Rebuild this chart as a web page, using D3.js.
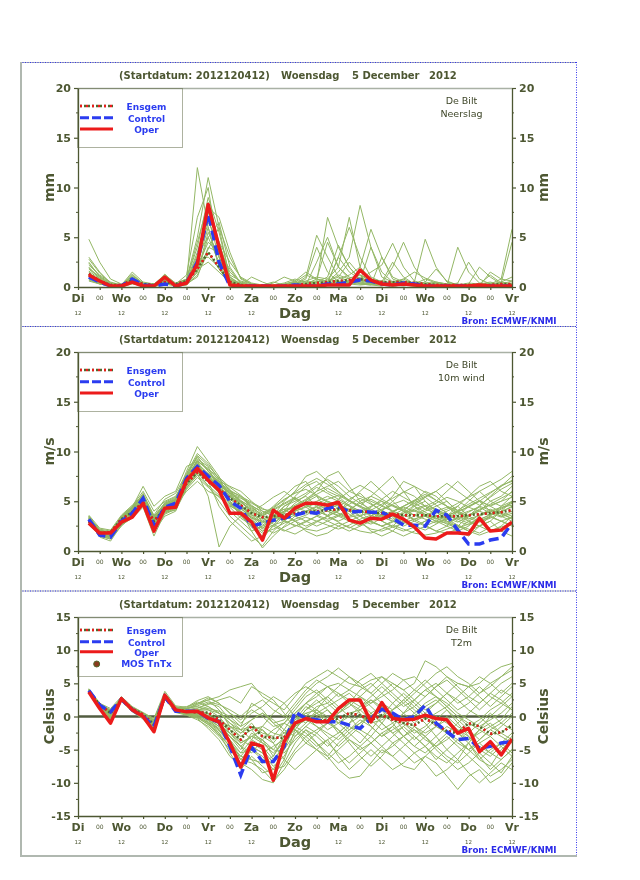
<!DOCTYPE html>
<html><head><meta charset="utf-8">
<script src="https://cdn.jsdelivr.net/npm/d3@7"></script>
<style>body{margin:0;background:#fff} svg{will-change:transform} text{font-family:"DejaVu Sans",sans-serif;white-space:pre}</style>
</head><body>
<svg id="c" width="640" height="880"></svg>
<script>
// ---------- DATA ----------
const hours = [6,12,18,24,30,36,42,48,54,60, 66,72,78,84,90,96,102,108,114,120, 126,132,138,144,150,156,162,168,174,180, 186,192,198,204,210,216,222,228,234,240];
const dayHours = [0,24,48,72,96,120,144,168,192,216,240];
const dayNames = ["Di","Wo","Do","Vr","Za","Zo","Ma","Di","Wo","Do","Vr"];
const noonLabels = ["12","12","12","12","12","","12","12","12","12","12"];
const nightHours = [12,36,60,84,108,132,156,180,204,228];
const legendLabels = ["Ensgem","Control","Oper"];
const tempLegendLabels = ["Ensgem","Control","Oper","MOS TnTx"];
const titleParts = ["(Startdatum: 2012120412)","Woensdag","5 December","2012"];

const precipTicks = [0,5,10,15,20];
const precipMinor = [2.5,7.5,12.5,17.5];
const tempTicks = [-15,-10,-5,0,5,10,15];
const tempMinor = [-12.5,-7.5,-2.5,2.5,7.5,12.5];

const precipOper = [1.2,0.6,0.1,0.1,0.5,0.1,0.1,1.0,0.1,0.4, 2.3,8.3,4.0,0.2,0.1,0.1,0.1,0.1,0.1,0.1, 0.1,0.1,0.2,0.2,0.2,1.7,0.7,0.3,0.2,0.3, 0.2,0.1,0.1,0.1,0.1,0.1,0.2,0.1,0.1,0.1];
const precipControl = [1.0,0.5,0.1,0.1,0.8,0.2,0.1,0.3,0.1,0.4, 2.5,7.4,2.5,0.1,0.1,0.1,0.1,0.1,0.1,0.2, 0.1,0.1,0.3,0.3,0.5,0.7,0.6,0.3,0.2,0.4, 0.3,0.1,0.1,0.1,0.1,0.1,0.1,0.1,0.1,0.1];
const precipEnsgem = [1.3,0.6,0.2,0.2,0.7,0.3,0.2,0.5,0.3,0.6, 1.8,3.5,2.0,0.5,0.2,0.1,0.1,0.1,0.1,0.2, 0.3,0.4,0.5,0.6,0.7,0.8,0.6,0.5,0.5,0.5, 0.4,0.3,0.2,0.2,0.2,0.2,0.2,0.2,0.3,0.3];
const precipMembers = [
 [4.8,2.5,0.8,0.3,1.0,0.3,0.2,0.8,0.2,0.5, 12.0,6.0,2.0,1.0,0.2,0.1,0.0,0.1,0.3,0.5, 0.2,0.1,0.5,1.2,0.8,0.3,0.2,0.1,0.5,0.8, 0.3,0.2,0.1,0.1,0.3,0.2,0.1,0.2,0.5,0.3],
 [3.0,1.5,0.4,0.2,1.5,0.5,0.3,1.2,0.4,0.8, 5.0,11.0,6.0,0.8,0.1,0.0,0.1,0.2,0.1,0.3, 1.0,5.2,3.0,1.0,0.6,0.4,0.3,0.2,0.3,0.2, 0.1,0.1,0.2,0.3,0.2,0.1,0.1,0.3,0.2,0.1],
 [2.0,0.8,0.2,0.1,0.9,0.2,0.2,1.3,0.3,1.2, 7.0,10.0,3.0,0.5,0.2,0.1,0.2,0.5,0.2,0.1, 0.3,0.8,4.5,2.0,7.0,2.0,0.8,0.4,0.2,0.1, 0.3,0.8,0.4,0.2,0.1,0.1,0.2,0.4,0.2,0.1],
 [1.5,0.5,0.1,0.1,0.6,0.1,0.1,0.5,0.2,0.6, 2.0,8.0,7.0,3.5,0.8,0.3,0.1,0.1,0.2,0.4, 0.2,0.3,0.5,1.5,3.0,8.2,4.0,1.0,0.5,0.3, 0.2,0.3,0.5,0.3,0.2,0.4,0.3,0.2,0.1,0.2],
 [2.5,1.0,0.3,0.1,1.2,0.4,0.3,0.8,0.2,0.3, 1.5,5.0,6.5,2.0,0.4,0.1,0.0,0.0,0.1,0.2, 0.1,0.2,0.3,0.8,1.2,2.0,5.8,3.0,1.0,0.5, 0.3,0.2,0.1,0.1,0.2,0.1,0.2,0.3,0.8,5.8],
 [1.0,0.4,0.1,0.0,0.5,0.2,0.1,0.6,0.1,0.5, 3.0,8.0,4.0,1.5,0.5,0.2,0.1,0.0,0.1,0.3, 0.8,4.0,1.5,0.5,0.3,1.0,0.5,0.3,2.0,4.5, 2.0,0.5,0.3,0.2,0.1,0.1,0.1,0.2,0.4,4.5],
 [0.8,0.3,0.1,0.1,0.4,0.1,0.0,0.4,0.3,0.8, 4.0,9.0,5.5,1.0,0.2,0.1,0.0,0.1,0.2,0.2, 0.3,0.5,7.0,4.0,2.0,0.8,0.4,0.2,0.1,0.2, 0.5,4.8,2.0,0.5,0.2,0.1,0.3,0.2,0.1,0.2],
 [1.8,0.9,0.2,0.1,0.7,0.2,0.1,0.9,0.2,0.4, 2.5,6.5,4.5,2.5,1.0,0.4,0.2,0.1,0.3,0.6, 1.5,0.8,0.5,3.0,6.0,3.0,1.0,0.5,2.5,1.0, 0.3,0.2,0.1,0.1,4.0,1.5,0.4,0.2,0.1,0.1],
 [1.2,0.6,0.2,0.1,0.8,0.3,0.1,0.7,0.1,0.3, 1.0,4.0,3.5,1.8,0.3,0.1,0.0,0.1,0.1,0.1, 0.2,0.3,0.4,0.6,0.5,0.8,1.5,2.2,4.4,2.0, 0.6,0.3,0.2,0.1,0.1,0.3,2.0,1.0,0.3,0.2],
 [0.9,0.4,0.1,0.0,0.3,0.1,0.1,0.3,0.1,0.2, 1.5,5.5,3.0,0.6,0.2,1.0,0.5,0.1,0.2,0.4, 0.6,1.0,0.8,0.5,0.4,0.3,0.2,3.0,0.8,0.4, 0.2,0.1,0.1,0.2,0.4,2.5,0.8,0.3,0.5,1.0],
 [2.2,1.2,0.5,0.2,1.0,0.3,0.2,1.1,0.3,0.6, 3.5,7.5,4.5,0.8,0.3,0.2,0.1,0.2,0.4,0.8, 0.5,0.4,0.3,0.5,0.9,1.2,0.8,0.6,0.4,0.8, 1.5,0.9,0.5,0.3,0.2,0.2,0.1,1.5,0.8,0.6],
 [1.4,0.7,0.2,0.1,0.6,0.2,0.1,0.6,0.2,0.5, 2.0,4.5,3.5,1.2,0.6,0.3,0.1,0.0,0.1,0.2, 0.4,0.3,0.2,0.4,0.3,0.2,0.3,0.5,0.3,0.2, 0.3,0.2,0.1,0.2,0.1,0.1,0.2,0.2,0.3,0.2],
 [0.6,0.3,0.1,0.1,0.4,0.2,0.1,0.5,0.2,0.7, 2.8,3.0,2.0,0.5,0.1,0.0,0.1,0.4,1.0,0.6, 0.2,2.5,5.0,2.0,0.8,0.5,0.3,0.2,0.4,0.5, 0.2,0.1,0.2,0.1,0.1,0.1,0.3,0.5,0.2,0.1],
 [1.6,0.8,0.3,0.2,0.9,0.3,0.2,0.8,0.3,0.5, 1.8,2.5,1.5,0.4,0.2,0.1,0.0,0.1,0.1,0.3, 0.5,0.6,0.4,3.0,1.5,0.8,0.5,0.4,0.3,0.2, 0.4,0.3,0.2,0.1,0.1,0.2,0.1,0.1,0.2,0.4],
 [1.1,0.5,0.1,0.1,0.5,0.1,0.1,0.6,0.1,0.3, 2.2,6.0,2.0,0.3,0.1,0.1,0.0,0.0,0.1,0.2, 0.3,0.2,0.3,0.4,0.5,0.6,4.0,1.5,0.5,0.3, 0.2,0.5,1.8,0.6,0.2,0.1,0.3,1.2,0.4,0.2],
 [2.8,1.4,0.4,0.2,1.1,0.4,0.2,0.9,0.2,0.6, 3.2,5.0,2.5,0.7,0.4,0.2,0.1,0.1,0.2,0.2, 0.1,0.2,0.8,2.0,1.0,0.6,0.4,0.3,0.5,0.3, 0.2,0.2,0.3,0.2,0.1,0.1,0.2,0.1,0.2,0.3],
 [0.7,0.3,0.1,0.0,0.4,0.1,0.1,0.4,0.1,0.2, 1.2,3.5,1.8,0.3,0.1,0.0,0.0,0.0,0.1,0.1, 0.2,0.3,0.2,0.3,0.6,0.4,0.3,0.2,0.1,0.2, 0.1,0.2,0.1,0.1,0.2,0.1,0.1,0.1,0.2,0.2],
 [1.9,1.0,0.3,0.1,0.8,0.2,0.1,0.7,0.2,0.4, 2.4,7.0,3.0,0.6,0.2,0.1,0.1,0.1,0.2,0.4, 0.3,0.5,1.0,4.2,2.0,0.7,0.4,0.3,0.2,0.4, 0.3,0.2,0.4,0.3,0.2,0.2,0.3,0.2,0.2,0.3],
 [1.3,0.6,0.2,0.1,0.6,0.2,0.1,0.5,0.2,0.6, 1.6,3.8,6.0,3.0,0.9,0.3,0.1,0.0,0.1,0.1, 0.2,0.4,0.3,0.2,0.5,0.8,0.5,0.3,0.4,0.6, 0.4,0.2,0.1,0.1,0.1,0.2,0.2,0.3,0.1,0.1],
 [2.4,1.1,0.4,0.2,1.3,0.3,0.2,1.0,0.3,0.7, 4.5,8.5,4.5,1.0,0.3,0.1,0.0,0.1,0.2,0.5, 1.2,0.8,0.6,1.0,2.5,1.2,0.6,0.4,0.3,0.6, 0.4,0.3,0.2,0.2,0.1,0.1,0.2,0.2,0.3,0.6]
];

const windOper = [2.8,1.8,1.8,2.9,3.4,4.8,2.0,4.3,4.4,7.1, 8.3,7.1,6.1,3.8,3.8,2.9,1.1,4.1,3.3,4.3, 4.8,4.8,4.6,4.9,3.1,2.8,3.3,3.2,3.7,3.2, 2.4,1.3,1.2,1.8,1.8,1.7,3.3,2.0,2.1,2.9];
const windControl = [3.2,1.6,1.4,3.0,3.8,5.3,2.5,4.4,4.8,7.3, 8.5,7.5,6.6,5.0,4.3,2.5,2.8,3.1,3.3,3.6, 3.9,3.8,4.3,4.5,3.9,4.0,3.9,3.9,3.3,2.6, 2.6,2.5,4.1,3.6,2.1,0.7,0.7,1.1,1.3,2.8];
const windEnsgem = [3.0,1.8,1.9,3.2,3.9,4.9,3.0,4.3,4.6,6.8, 7.9,7.0,6.2,5.3,4.6,3.8,3.4,3.5,3.6,3.8, 3.9,4.0,4.1,4.2,4.1,4.0,3.9,3.8,3.7,3.6, 3.6,3.6,3.5,3.5,3.5,3.6,3.7,3.8,3.9,4.1];
const windMembers = [
 [3.5,2.0,1.5,3.5,4.5,6.0,4.0,5.0,5.5,7.5, 9.5,8.0,7.0,5.5,4.5,3.0,2.0,3.0,4.0,5.5, 6.5,7.0,6.0,5.5,4.5,3.5,3.0,4.0,5.0,6.0, 5.5,4.5,3.5,3.0,2.5,3.5,4.5,5.5,6.5,7.5],
 [3.0,1.5,1.2,2.5,3.5,4.5,2.0,3.5,4.0,6.5, 8.0,6.5,5.0,3.5,2.5,1.5,0.5,2.0,3.0,4.0, 5.0,6.0,7.5,8.0,6.5,5.0,4.0,3.0,2.5,3.5, 4.5,5.0,4.0,3.0,2.0,1.5,2.5,3.5,3.0,2.5],
 [2.8,1.8,2.0,3.2,4.0,5.5,3.0,4.0,5.0,7.0, 8.5,7.5,6.5,6.0,5.5,4.5,3.5,4.5,5.5,6.5, 7.0,5.5,4.0,3.5,3.0,2.5,3.5,4.5,5.5,7.0, 6.5,5.0,4.0,3.5,4.0,5.0,6.0,5.0,4.5,5.5],
 [3.3,1.9,1.6,3.0,4.2,5.8,3.5,4.8,5.2,8.0, 10.5,9.0,7.5,5.0,3.5,2.5,1.5,2.5,3.5,3.0, 2.5,3.0,3.5,4.0,5.0,6.0,7.0,6.0,5.0,4.0, 3.0,2.5,2.0,2.5,3.5,4.5,5.0,4.0,3.5,4.0],
 [3.1,1.7,1.3,2.8,3.6,4.8,2.3,4.2,4.6,6.0, 7.0,6.0,5.5,4.5,4.0,2.0,0.3,1.5,2.5,3.5, 4.0,4.5,5.0,4.5,4.0,3.0,2.0,1.5,2.0,3.0, 3.5,4.0,4.5,5.0,4.0,3.0,2.5,3.0,4.0,5.0],
 [2.9,1.6,1.7,3.3,4.4,6.5,4.5,5.5,6.0,8.5, 9.0,7.0,4.5,3.0,2.0,1.0,1.5,3.5,5.0,6.0, 7.5,8.0,7.0,6.0,5.0,4.5,5.5,6.5,7.5,6.0, 4.5,3.5,3.0,3.5,4.5,5.5,6.5,7.0,6.0,5.5],
 [3.4,2.1,1.8,3.4,4.1,5.1,2.8,4.0,4.4,6.8, 8.2,7.3,6.8,5.8,5.0,4.0,3.0,2.5,2.0,2.5, 3.0,3.5,3.0,2.5,2.0,2.5,3.0,2.5,2.0,1.5, 2.0,2.5,3.0,2.5,2.0,2.5,3.5,4.0,3.5,3.0],
 [3.0,1.4,1.0,2.6,3.3,4.4,1.5,3.8,4.3,6.3, 7.8,7.8,7.0,6.5,6.0,5.0,4.0,3.5,3.0,4.0, 4.5,5.0,5.5,5.0,4.5,4.0,4.5,5.0,4.0,3.0, 2.5,3.0,3.5,4.0,4.5,3.5,3.0,3.5,4.5,5.0],
 [3.6,2.3,2.1,3.6,4.6,5.6,3.2,4.6,5.2,7.2, 9.2,8.5,6.0,4.0,3.0,2.0,2.5,3.0,4.5,5.0, 5.5,4.5,3.5,3.0,3.5,4.0,3.0,2.5,3.0,4.0, 5.0,6.0,5.5,4.5,3.5,3.0,2.5,2.0,2.5,3.5],
 [2.7,1.5,1.4,2.9,3.7,5.0,2.6,4.3,4.7,7.1, 8.7,7.2,6.3,5.2,4.8,3.2,2.2,3.8,4.2,3.5, 3.0,2.5,3.0,3.5,4.0,5.0,5.5,5.0,4.5,4.0, 4.0,4.5,5.0,6.0,7.0,6.0,5.0,4.5,5.0,6.0],
 [3.2,1.9,1.9,3.1,3.9,5.2,3.1,4.5,4.9,7.4, 8.9,7.6,6.4,5.6,5.3,4.8,4.2,4.0,3.8,3.0, 2.0,1.5,1.8,2.5,3.0,3.5,4.0,3.5,3.0,2.5, 3.0,3.5,3.0,2.8,2.5,2.0,2.5,3.0,2.0,1.5],
 [3.3,1.8,1.5,3.2,4.3,5.6,3.6,5.2,5.8,7.8, 9.8,8.8,7.2,6.2,4.6,3.6,2.6,3.3,4.0,4.6, 5.2,6.0,6.5,7.0,6.0,5.5,5.0,4.5,4.0,4.5, 5.0,5.5,6.0,5.0,4.0,3.5,4.0,5.0,5.5,6.5],
 [2.9,1.7,1.6,2.7,3.4,4.6,2.4,3.9,4.1,6.2, 7.4,6.4,5.4,4.4,3.3,2.6,1.8,2.2,2.8,3.2, 3.6,4.2,4.8,3.8,3.2,2.8,2.2,2.0,2.4,2.8, 3.2,2.6,2.0,1.8,2.2,3.0,3.6,4.2,3.8,3.2],
 [3.1,2.0,1.8,3.0,4.0,5.4,3.3,4.4,4.8,7.0, 8.4,7.4,6.6,5.8,5.4,4.4,3.6,4.2,4.8,5.4, 4.6,4.0,3.6,4.4,5.2,5.8,4.8,4.0,3.4,3.8, 4.2,4.6,4.2,3.6,3.2,3.6,4.2,4.6,5.0,5.4],
 [3.0,1.6,1.4,2.8,3.8,5.0,2.7,4.2,4.5,6.7, 8.0,7.0,5.8,4.8,4.0,3.4,3.0,3.6,4.2,4.4, 4.8,4.6,4.2,3.8,3.4,3.6,3.8,4.2,4.6,4.2, 3.6,3.2,2.8,3.2,3.6,4.0,4.4,3.8,3.4,3.8],
 [3.4,2.2,2.0,3.5,4.4,5.7,3.4,4.7,5.1,7.5, 9.0,8.2,7.4,6.4,5.6,4.6,3.8,4.4,5.2,5.8, 6.2,5.6,5.0,4.6,4.2,3.8,4.4,5.2,6.0,5.4, 4.8,4.2,3.8,4.2,4.8,5.4,6.0,6.6,7.2,8.0],
 [2.8,1.5,1.2,2.6,3.5,4.7,2.2,3.7,4.2,6.4, 7.6,6.6,5.6,4.6,3.8,2.8,2.0,2.6,3.0,2.6, 2.2,2.0,2.4,2.8,2.4,2.0,1.8,2.2,2.6,2.2, 1.8,1.6,1.8,2.2,2.6,2.0,1.6,2.0,2.4,2.8],
 [3.2,1.8,1.6,3.1,4.0,5.2,2.9,4.4,4.8,7.0, 8.6,7.6,6.2,5.0,4.2,3.6,3.2,3.6,4.0,4.4, 4.0,3.6,3.2,3.6,4.2,4.8,5.2,4.6,4.0,3.6, 3.2,3.6,4.0,4.4,3.8,3.2,3.6,4.0,4.4,4.6],
 [3.5,2.0,1.7,3.3,4.3,5.5,3.0,4.9,5.4,7.6, 9.4,8.0,6.8,5.0,3.6,2.4,1.2,2.6,3.8,4.8, 5.6,6.4,5.8,5.2,4.6,4.0,3.6,3.2,3.6,4.2, 4.8,5.4,4.6,3.8,3.0,2.6,3.0,3.4,3.0,2.6],
 [3.0,1.7,1.5,2.9,3.8,5.1,2.8,4.1,4.6,6.9, 8.3,7.1,6.1,5.4,4.9,4.2,3.5,3.2,3.6,4.0, 4.4,4.8,5.2,5.6,5.0,4.4,3.8,3.4,3.0,2.8, 3.2,3.6,4.0,3.6,3.2,2.8,3.2,3.6,4.2,4.8],
 [3.3,1.9,1.7,3.2,4.1,5.3,3.2,4.5,5.0,7.2, 8.8,7.8,7.0,6.0,5.0,3.8,2.8,3.5,4.5,5.2, 5.8,6.6,7.2,6.5,5.5,4.8,4.2,3.6,3.2,3.8, 4.6,5.4,6.0,6.8,6.0,5.2,4.6,5.4,6.2,6.8],
 [2.9,1.6,1.5,2.8,3.6,4.9,2.5,4.0,4.4,6.6, 7.9,7.2,6.6,5.8,4.6,3.4,2.4,1.8,2.4,3.0, 3.4,3.0,2.6,2.2,2.6,3.2,3.6,3.0,2.4,2.0, 2.4,3.0,3.6,3.2,2.6,2.2,1.8,2.4,3.0,3.4],
 [3.1,1.8,1.8,3.3,4.2,5.5,3.5,4.6,5.0,7.3, 8.6,7.5,6.2,5.2,4.4,4.0,4.6,5.4,6.0,5.2, 4.4,3.8,4.4,5.2,6.0,6.6,6.0,5.2,4.6,4.0, 3.6,4.2,4.8,5.4,5.0,4.4,5.0,5.8,6.6,7.0],
 [3.2,1.7,1.4,3.0,3.9,5.0,2.7,4.3,4.7,7.0, 8.4,7.7,6.9,6.1,5.5,4.9,4.3,3.7,3.1,2.5, 2.9,3.5,4.1,4.7,4.1,3.5,2.9,2.5,2.9,3.5, 4.1,3.7,3.3,2.9,3.3,3.9,4.5,4.1,3.7,3.3],
 [3.4,2.0,1.6,3.3,4.2,5.5,3.2,4.7,5.1,7.3, 9.1,8.1,6.5,4.7,3.9,3.1,2.3,2.9,3.5,4.1, 4.9,5.5,4.9,4.3,3.7,3.1,2.7,3.3,3.9,4.5, 5.1,4.5,3.9,3.3,2.9,3.5,4.1,4.7,5.3,5.9],
 [2.8,1.6,1.3,2.7,3.6,4.8,2.5,3.9,4.4,6.6, 7.8,5.5,0.4,2.5,3.5,3.9,3.5,4.1,4.7,5.3, 4.7,4.1,3.5,2.9,2.3,2.9,3.5,4.1,4.7,5.1, 4.5,3.9,3.3,2.7,2.3,2.7,3.1,3.7,4.3,4.9],
 [3.3,2.1,1.9,3.4,4.3,5.6,3.3,4.6,5.1,7.4, 9.0,8.3,7.1,5.7,4.3,3.3,2.9,3.3,3.9,4.5, 5.1,5.7,6.3,5.7,5.1,4.5,4.1,4.7,5.3,5.9, 6.5,5.9,5.1,4.5,4.1,4.7,5.3,5.9,6.5,7.1],
 [3.0,1.7,1.6,3.0,3.9,5.1,2.9,4.2,4.6,6.9, 8.2,7.3,6.4,5.5,5.0,4.5,4.0,3.6,3.2,3.6, 4.0,4.4,4.0,3.6,3.2,2.8,3.2,3.6,4.0,4.4, 4.0,3.6,3.2,3.6,4.0,4.4,4.0,3.6,4.0,4.4],
 [3.5,2.1,1.8,3.4,4.4,5.7,3.4,4.8,5.3,7.7, 9.6,8.6,7.3,6.1,4.9,4.1,3.3,2.7,2.1,1.7, 2.3,2.9,3.5,4.1,4.7,5.3,4.7,4.1,3.5,2.9, 2.5,2.1,2.7,3.3,3.9,4.5,5.1,4.5,3.9,3.5],
 [3.1,1.8,1.6,3.1,4.0,5.2,3.0,4.4,4.8,7.0, 8.5,7.6,6.7,5.9,5.1,4.3,3.7,4.3,5.1,5.9, 6.7,7.3,6.7,5.9,5.1,4.5,3.9,3.5,3.9,4.5, 5.1,5.7,5.1,4.5,3.9,3.3,2.9,3.3,3.9,4.5]
];

const tempOper = [3.7,1.2,-1.0,2.7,1.0,0.0,-2.3,3.2,1.0,0.7, 0.8,-0.2,-0.8,-4.0,-7.6,-4.0,-4.5,-9.6,-3.8,-1.0, -0.3,-0.8,-0.8,1.2,2.5,2.5,-0.8,2.1,-0.3,-0.5, -0.4,0.2,-0.3,-0.5,-2.5,-1.8,-5.3,-3.8,-5.8,-3.4];
const tempControl = [3.9,1.7,0.7,2.6,1.0,0.0,-1.5,3.0,0.8,0.8, 0.8,-0.3,-0.8,-4.5,-8.8,-4.6,-6.8,-6.8,-4.5,0.7, -0.3,-0.5,-0.8,-0.8,-1.3,-1.8,-0.3,1.1,0.5,-0.5, 0.0,1.7,-1.0,-2.3,-3.5,-3.3,-4.8,-4.5,-4.0,-3.8];
const tempEnsgem = [3.8,1.8,0.5,2.5,1.2,0.3,-1.2,2.8,1.0,0.8, 0.6,0.6,-0.5,-2.0,-3.5,-1.4,-3.0,-3.2,-3.2,-1.0, -0.3,-0.5,-0.6,-0.3,0.5,0.2,-0.6,0.2,-0.5,-1.0, -1.3,-0.3,-1.2,-2.2,-2.5,-1.0,-1.5,-2.6,-2.4,-1.4];
const tempMembers = [
 [4.0,1.5,0.2,2.8,1.2,0.2,-1.0,3.0,1.2,1.5, 2.0,2.5,3.0,4.0,4.5,5.0,3.0,2.0,1.0,3.0, 5.0,6.0,7.0,6.0,5.0,4.5,5.5,6.0,5.0,4.0, 5.0,8.4,7.5,6.0,5.0,4.5,5.0,6.5,7.5,8.0],
 [3.8,1.0,-0.5,2.5,0.8,-0.3,-2.0,2.8,0.6,0.2, -0.5,-1.5,-3.0,-5.0,-7.0,-8.0,-9.5,-10.0,-7.0,-4.0, -2.0,-4.0,-6.0,-8.0,-9.3,-9.0,-7.0,-5.0,-6.0,-7.5, -8.0,-6.0,-7.0,-9.0,-11.0,-9.0,-8.0,-10.0,-9.0,-7.0],
 [3.6,1.8,0.8,2.4,1.4,0.5,-0.5,3.5,1.5,1.0, 0.5,-0.5,-2.0,-4.0,-6.0,-4.0,-5.0,-7.0,-5.0,-1.0, 1.0,2.0,3.0,1.5,0.0,-2.0,-3.0,-1.0,1.0,2.0, 0.5,-1.0,-3.0,-5.0,-6.5,-4.0,-2.0,0.0,1.5,3.0],
 [4.1,1.3,-0.8,2.9,0.9,0.1,-1.8,3.1,0.8,0.5, 1.0,1.5,0.5,-1.0,-2.5,-1.0,-3.0,-4.0,-2.0,0.5, 2.0,3.5,4.5,5.0,4.0,3.0,2.0,3.0,4.0,5.5, 6.0,4.5,3.0,1.5,0.0,-1.5,-0.5,1.0,2.0,1.0],
 [3.7,1.6,0.4,2.6,1.1,-0.2,-1.5,2.9,1.0,0.6, 0.0,-1.0,-2.5,-5.5,-8.0,-6.0,-7.5,-9.0,-6.5,-2.0, 0.0,-1.5,-3.0,-4.5,-3.0,-1.5,0.5,1.5,0.0,-2.0, -3.5,-2.0,-0.5,1.0,-1.0,-3.0,-5.0,-6.0,-4.5,-3.0],
 [3.9,1.9,1.0,2.7,1.3,0.4,-0.8,3.3,1.3,1.2, 1.5,1.0,0.0,-2.0,-4.0,-3.0,-4.0,-5.5,-4.0,-1.5, -0.5,0.5,1.5,2.5,3.5,2.0,0.5,-1.0,-2.5,-1.5, 0.0,1.5,2.5,1.0,-0.5,-2.0,-3.5,-2.0,-1.0,0.5],
 [3.5,1.2,-1.2,2.3,0.7,-0.4,-2.3,2.6,0.7,0.3, -0.3,-1.8,-3.5,-6.0,-7.5,-5.0,-6.0,-8.0,-7.5,-5.0, -3.0,-2.0,-1.0,-2.0,-4.0,-6.0,-7.5,-6.0,-4.0,-3.0, -2.0,-3.0,-5.0,-6.5,-8.0,-7.0,-5.5,-7.0,-8.5,-6.0],
 [4.2,2.0,1.2,3.0,1.5,0.6,-0.3,3.8,1.6,1.4, 2.4,3.0,2.0,0.5,-1.0,0.5,1.5,3.0,2.0,0.0, -1.0,1.0,3.0,4.5,6.0,5.0,3.5,2.0,1.0,2.5, 4.0,5.5,4.0,2.5,1.0,2.0,3.5,5.0,6.0,7.5],
 [3.8,1.4,0.0,2.6,1.0,0.0,-1.2,3.0,0.9,0.4, 0.2,0.0,-1.0,-3.0,-5.0,-2.5,-3.5,-6.0,-3.5,-0.5, 0.5,-0.5,-2.0,-1.0,0.5,1.0,-0.5,-2.0,-1.0,0.5, 1.5,0.0,-1.5,-2.5,-4.0,-5.0,-3.5,-2.0,-3.0,-4.0],
 [3.6,1.7,0.6,2.5,1.2,0.3,-1.0,2.7,1.1,0.9, 0.9,0.5,-0.5,-2.5,-4.5,-5.5,-3.5,-2.0,-1.0,-2.0, -3.5,-5.0,-6.0,-4.0,-2.5,-1.0,0.5,-1.0,-2.5,-4.0, -5.5,-4.5,-3.0,-1.5,-2.5,-4.0,-6.0,-8.0,-6.5,-5.0],
 [4.0,1.6,-0.3,2.7,0.9,0.2,-1.6,3.2,1.2,0.8, 1.2,2.0,1.5,-0.5,-2.0,-1.5,-2.5,-3.0,-1.0,1.0, 3.0,4.0,2.5,1.0,2.0,4.0,5.0,3.5,2.0,0.5, -1.0,0.5,2.0,3.5,2.5,1.0,0.0,-1.5,-0.5,1.5],
 [3.7,1.5,0.3,2.4,1.0,-0.1,-1.3,2.9,0.8,0.5, 0.3,-0.8,-2.0,-3.5,-6.5,-7.0,-8.0,-9.8,-8.0,-5.5, -4.0,-5.0,-6.5,-5.0,-3.5,-4.5,-6.0,-4.5,-3.0,-1.5, -3.0,-4.5,-6.0,-7.0,-5.5,-4.0,-6.5,-7.5,-5.0,-3.5],
 [3.9,1.8,0.9,2.8,1.3,0.5,-0.6,3.4,1.4,1.1, 1.8,2.5,1.0,-1.5,-3.0,-2.0,-1.5,-2.5,-3.0,-0.5, 1.5,0.5,-1.0,0.5,2.0,3.0,1.5,0.0,1.0,2.5, 1.0,-0.5,0.5,1.5,0.0,-1.0,-2.0,-3.0,-1.5,0.0],
 [3.6,1.1,-0.7,2.5,0.8,-0.2,-2.1,2.7,0.7,0.4, -0.2,-1.2,-2.8,-4.5,-6.5,-4.5,-5.5,-7.5,-6.0,-3.0, -1.5,-2.5,-4.0,-5.5,-7.0,-5.5,-4.0,-2.5,-4.0,-5.5, -7.0,-6.0,-4.5,-3.0,-4.5,-6.0,-7.5,-9.0,-8.0,-6.5],
 [4.1,1.9,0.7,2.9,1.3,0.4,-0.7,3.3,1.3,1.3, 2.2,1.5,0.5,-0.5,-1.5,2.0,1.0,-1.0,-2.5,-1.5, 0.0,1.5,2.0,3.5,2.5,1.5,3.0,4.5,3.0,1.5, 2.5,4.0,5.0,3.5,2.0,3.0,4.5,3.0,2.0,3.5],
 [3.8,1.5,0.1,2.6,1.1,0.1,-1.4,3.0,0.9,0.6, 0.5,-0.3,-1.5,-3.5,-5.5,-3.5,-4.5,-6.5,-4.5,-1.5, -0.5,-1.5,-2.5,-3.5,-2.0,-0.5,-1.5,-3.0,-2.0,-1.0, -2.0,-3.5,-4.5,-3.5,-2.0,-3.0,-4.5,-5.5,-4.0,-2.5],
 [3.7,1.3,-0.4,2.5,0.9,0.0,-1.9,2.8,0.8,0.4, 0.1,-0.6,-1.8,-3.0,-4.5,-6.5,-8.5,-8.0,-5.0,-2.5, -1.0,0.5,-0.5,-2.0,-3.5,-5.0,-4.0,-2.5,-1.5,-3.0, -4.5,-5.5,-4.0,-2.5,-3.5,-5.0,-4.0,-3.0,-4.5,-6.0],
 [3.9,1.7,0.5,2.7,1.2,0.3,-1.1,3.1,1.1,0.9, 1.0,1.2,0.8,0.0,-1.5,-0.5,0.5,-1.0,-0.5,1.5, 3.5,5.0,6.0,7.3,6.0,4.5,3.5,5.0,6.5,5.5, 4.0,3.0,4.5,6.0,4.5,3.0,2.0,3.5,5.0,6.0],
 [4.0,1.4,-0.2,2.8,1.0,0.1,-1.7,3.1,1.0,0.7, 0.6,0.0,-1.2,-2.5,-3.5,-4.5,-5.5,-4.5,-3.5,-2.0, -3.0,-4.5,-3.5,-2.5,-1.0,0.0,-1.0,-0.5,0.5,-0.5, -1.5,-2.5,-1.5,-0.5,-2.0,-3.5,-2.5,-1.5,-2.5,-1.0],
 [3.6,1.6,0.4,2.4,1.1,0.2,-0.9,2.9,1.0,0.7, 0.7,0.2,-0.8,-1.5,-2.5,-1.5,-2.0,-3.5,-2.5,-1.0, 0.5,1.0,0.0,-1.0,0.0,1.5,2.5,1.5,0.0,-1.0, 0.5,2.0,3.0,2.0,0.5,-0.5,-1.5,-0.5,0.5,2.0],
 [3.8,1.6,0.6,2.6,1.2,0.4,-0.8,3.1,1.2,1.0, 1.3,1.8,2.5,3.0,2.0,4.5,3.5,2.5,0.5,-2.0, -4.0,-2.5,-1.0,0.5,2.0,0.5,-1.5,-3.0,-1.5,0.5, 2.5,4.0,3.0,1.5,3.0,4.5,6.0,5.0,3.5,5.0],
 [3.7,1.4,0.0,2.5,1.0,0.1,-1.4,2.9,0.9,0.6, 0.4,-0.5,-1.5,-2.5,-4.0,-3.0,-2.0,-4.0,-6.5,-8.0, -6.5,-5.0,-3.5,-6.0,-8.0,-6.5,-5.0,-6.5,-8.0,-7.0, -5.5,-7.0,-9.0,-8.0,-6.5,-8.5,-10.0,-8.5,-7.0,-8.0],
 [4.0,1.7,0.3,2.8,1.1,0.2,-1.2,3.2,1.1,0.8, 0.9,1.0,0.5,-1.0,-2.0,-3.5,-1.5,0.5,2.0,3.5, 4.5,3.5,2.0,0.5,1.5,3.0,4.5,6.0,4.5,3.0, 1.5,3.0,4.5,5.5,4.0,2.5,1.0,2.5,4.0,3.0],
 [3.9,1.5,-0.1,2.7,1.0,0.0,-1.5,3.0,1.0,0.7, 0.5,0.0,-1.0,-2.0,-3.0,-2.0,-4.0,-5.0,-3.0,0.0, 2.0,1.0,-0.5,-2.5,-1.0,1.0,2.5,1.0,-1.0,-3.0, -4.5,-3.0,-1.5,0.0,-1.5,-2.5,-1.0,0.5,-1.0,-2.0],
 [3.6,1.3,-0.5,2.4,0.9,-0.1,-1.7,2.8,0.8,0.4, 0.0,-0.9,-2.2,-4.0,-5.5,-5.0,-6.5,-7.0,-4.0,-1.0, 1.0,2.5,1.0,-1.0,-2.5,-4.0,-2.0,0.0,2.0,3.5, 2.0,0.5,-1.0,-2.5,-1.0,0.5,2.0,3.5,2.5,1.0],
 [4.1,1.8,0.8,2.9,1.4,0.5,-0.5,3.4,1.4,1.2, 1.6,2.2,1.8,1.0,0.0,1.5,2.5,1.0,0.0,2.0, 4.0,5.5,4.5,3.0,4.0,5.5,6.5,5.0,3.5,2.0, 3.5,5.0,6.5,7.5,6.0,5.0,3.5,4.5,6.0,7.0],
 [3.8,1.4,0.1,2.6,1.0,0.1,-1.3,3.0,0.9,0.5, 0.3,-0.2,-1.2,-3.0,-4.5,-3.0,-3.5,-5.0,-5.5,-3.5, -2.0,-3.0,-4.5,-3.0,-1.5,-2.5,-4.0,-5.5,-4.5,-3.0, -1.5,-3.0,-4.5,-6.0,-7.0,-5.5,-4.0,-5.5,-6.5,-5.0],
 [3.7,1.6,0.5,2.5,1.2,0.3,-1.0,2.9,1.1,0.8, 0.8,0.4,-0.5,-1.5,-2.0,-0.5,0.5,-0.5,-2.0,-3.0, -1.5,0.0,1.0,-0.5,-2.0,-1.0,0.0,1.5,0.5,-1.0, -2.5,-1.5,0.0,-1.0,-2.5,-3.5,-2.0,-1.0,-2.5,-3.5],
 [3.9,1.2,-0.6,2.7,0.8,-0.1,-1.9,3.0,0.7,0.3, -0.1,-1.2,-2.5,-4.5,-6.0,-6.5,-7.0,-6.0,-3.0,-1.5, -2.5,-4.0,-5.5,-7.0,-6.0,-4.5,-3.0,-4.5,-6.0,-4.5, -3.0,-4.5,-6.5,-5.0,-3.5,-5.0,-6.5,-5.0,-4.0,-5.5],
 [4.0,1.9,0.9,2.8,1.3,0.4,-0.7,3.3,1.2,1.2, 1.9,2.8,2.0,0.5,-0.5,1.0,0.0,-1.5,-1.0,0.5, 2.0,3.0,4.5,3.5,2.0,1.0,2.0,3.5,5.0,4.0, 2.5,1.0,2.0,3.5,5.0,4.5,3.0,1.5,3.0,4.5]
];

// ---------- STYLE ----------
const TXT = "#4d5732";
const GREEN = "#93b765";
const RED = "#ec1b1b";
const BLUE = "#2b3cf0";
const DARKDOT = "#4f6a2c";
const FONT = "DejaVu Sans";

const svg = d3.select("#c");
const x = d3.scaleLinear().domain([0,240]).range([78,512]);

const panels = [
  {off:0,   dom:[0,20],   ticks:precipTicks, minor:precipMinor, unit:"mm",      place:"Neerslag", members:precipMembers, ensgem:precipEnsgem, control:precipControl, oper:precipOper, legend:legendLabels, zero:false},
  {off:264, dom:[0,20],   ticks:precipTicks, minor:precipMinor, unit:"m/s",     place:"10m wind", members:windMembers,   ensgem:windEnsgem,   control:windControl,   oper:windOper,   legend:legendLabels, zero:false},
  {off:529, dom:[-15,15], ticks:tempTicks,   minor:tempMinor,   unit:"Celsius", place:"T2m",      members:tempMembers,   ensgem:tempEnsgem,   control:tempControl,   oper:tempOper,   legend:tempLegendLabels, zero:true}
];

// frame
const frame = svg.append("g");
[62.5, 326.5, 591].forEach(yy => {
  frame.append("line").attr("x1",20).attr("x2",576).attr("y1",yy).attr("y2",yy)
    .attr("stroke","#b4bab4").attr("stroke-width",1);
  frame.append("line").attr("x1",20).attr("x2",576).attr("y1",yy).attr("y2",yy)
    .attr("stroke","#3636ee").attr("stroke-width",1).attr("stroke-dasharray","1,1.5");
});
frame.append("line").attr("x1",576.5).attr("x2",576.5).attr("y1",62).attr("y2",856)
  .attr("stroke","#3636ee").attr("stroke-width",1).attr("stroke-dasharray","1,1.5");
frame.append("line").attr("x1",21).attr("x2",21).attr("y1",62).attr("y2",857)
  .attr("stroke","#b0b8b0").attr("stroke-width",2);
frame.append("line").attr("x1",20).attr("x2",577).attr("y1",856).attr("y2",856)
  .attr("stroke","#b0b8b0").attr("stroke-width",2);

function styleAxis(g){
  g.select(".domain").attr("stroke",TXT).attr("stroke-width",1.3);
  g.selectAll(".tick line").attr("stroke",TXT).attr("stroke-width",1.2);
  g.selectAll("text").attr("font-family",FONT).attr("font-weight","bold")
    .attr("font-size",11).attr("fill",TXT);
}
const plainFmt = d => String(d);

panels.forEach(p => {
  const off = p.off;
  const y = d3.scaleLinear().domain(p.dom).range([287+off, 88+off]);
  const g = svg.append("g");
  const yTop = y(p.dom[1]), yBot = y(p.dom[0]);

  // title
  const tx = [119, 281, 352, 429];
  titleParts.forEach((t,i) => {
    g.append("text").attr("x",tx[i]).attr("y",79+off).text(t)
      .attr("font-family",FONT).attr("font-weight","bold").attr("font-size",10).attr("fill",TXT);
  });

  // top frame line
  g.append("line").attr("x1",78).attr("x2",512).attr("y1",yTop+0.5).attr("y2",yTop+0.5)
    .attr("stroke","#a9b1a5").attr("stroke-width",1.5);

  if (p.zero) {
    g.append("line").attr("x1",78).attr("x2",512).attr("y1",y(0)).attr("y2",y(0))
      .attr("stroke","#525c40").attr("stroke-width",2.5);
  }

  const line = d3.line().x((d,i)=>x(hours[i])).y(d=>y(d));

  g.append("g").selectAll("path").data(p.members).join("path")
    .attr("d",line).attr("fill","none").attr("stroke",GREEN).attr("stroke-width",1);

  g.append("path").datum(p.ensgem).attr("d",line).attr("fill","none")
    .attr("stroke",DARKDOT).attr("stroke-width",2.5).attr("stroke-dasharray","2,2");
  g.append("path").datum(p.ensgem).attr("d",line).attr("fill","none")
    .attr("stroke",RED).attr("stroke-width",2.5).attr("stroke-dasharray","2,6");

  g.append("path").datum(p.control).attr("d",line).attr("fill","none")
    .attr("stroke",BLUE).attr("stroke-width",3.5).attr("stroke-dasharray","10,5");
  g.append("path").datum(p.oper).attr("d",line).attr("fill","none")
    .attr("stroke",RED).attr("stroke-width",3.5).attr("stroke-linejoin","round");

  // axes
  const gl = g.append("g").attr("transform","translate(78,0)")
    .call(d3.axisLeft(y).tickValues(p.ticks).tickFormat(plainFmt).tickSize(4).tickSizeOuter(0).tickPadding(3));
  styleAxis(gl);
  const gr = g.append("g").attr("transform","translate(512,0)")
    .call(d3.axisRight(y).tickValues(p.ticks).tickFormat(plainFmt).tickSize(4).tickSizeOuter(0).tickPadding(3));
  styleAxis(gr);
  p.minor.forEach(v => {
    g.append("line").attr("x1",76).attr("x2",78).attr("y1",y(v)).attr("y2",y(v)).attr("stroke",TXT);
    g.append("line").attr("x1",512).attr("x2",514).attr("y1",y(v)).attr("y2",y(v)).attr("stroke",TXT);
  });
  const gb = g.append("g").attr("transform",`translate(0,${yBot})`)
    .call(d3.axisBottom(x).tickValues(dayHours.concat(nightHours)).tickSize(3).tickSizeOuter(0).tickFormat(""));
  styleAxis(gb);

  // x labels
  dayHours.forEach((h,i) => {
    g.append("text").attr("x",x(h)).attr("y",yBot+15).attr("text-anchor","middle").text(dayNames[i])
      .attr("font-family",FONT).attr("font-weight","bold").attr("font-size",11).attr("fill",TXT);
    if (noonLabels[i]) {
      g.append("text").attr("x",x(h)).attr("y",yBot+28).attr("text-anchor","middle").text(noonLabels[i])
        .attr("font-family",FONT).attr("font-size",5.5).attr("fill",TXT);
    }
  });
  nightHours.forEach(h => {
    g.append("text").attr("x",x(h)).attr("y",yBot+12.5).attr("text-anchor","middle").text("00")
      .attr("font-family",FONT).attr("font-size",6).attr("fill",TXT);
  });
  g.append("text").attr("x",295).attr("y",yBot+30.5).attr("text-anchor","middle").text("Dag")
    .attr("font-family",FONT).attr("font-weight","bold").attr("font-size",14.5).attr("fill",TXT);

  // y unit labels
  const cy = (yTop+yBot)/2;
  [54, 548].forEach(xx => {
    g.append("text").attr("transform",`translate(${xx},${cy}) rotate(-90)`).attr("text-anchor","middle")
      .text(p.unit).attr("font-family",FONT).attr("font-weight","bold").attr("font-size",14).attr("fill",TXT);
  });

  // station
  g.append("text").attr("x",461.5).attr("y",yTop+16).attr("text-anchor","middle").text("De Bilt")
    .attr("font-family",FONT).attr("font-size",9.5).attr("fill","#3e4628");
  g.append("text").attr("x",461.5).attr("y",yTop+28.5).attr("text-anchor","middle").text(p.place)
    .attr("font-family",FONT).attr("font-size",9.5).attr("fill","#3e4628");

  // source
  g.append("text").attr("x",461.5).attr("y",yBot+36.5).text("Bron: ECMWF/KNMI")
    .attr("font-family",FONT).attr("font-weight","bold").attr("font-size",8.7).attr("fill","#2a2ae8");

  // legend
  const lg = g.append("g");
  lg.append("rect").attr("x",77.5).attr("y",yTop+0.5).attr("width",105).attr("height",59)
    .attr("fill","none").attr("stroke","#5a6440").attr("stroke-width",1).attr("stroke-dasharray","1,1");
  const four = p.legend.length === 4;
  const lineY = four ? [13,24.7,34.7,47] : [18,29.7,41];
  const txtY = four ? [17,28.7,38.7,50.3] : [22.3,33.7,45];
  p.legend.forEach((lab,i) => {
    const ly = yTop + lineY[i];
    if (lab === "Ensgem") {
      lg.append("line").attr("x1",80).attr("x2",113).attr("y1",ly).attr("y2",ly)
        .attr("stroke",DARKDOT).attr("stroke-width",2.5).attr("stroke-dasharray","2,2");
      lg.append("line").attr("x1",80).attr("x2",113).attr("y1",ly).attr("y2",ly)
        .attr("stroke",RED).attr("stroke-width",2.5).attr("stroke-dasharray","2,4");
    } else if (lab === "Control") {
      lg.append("line").attr("x1",80).attr("x2",113).attr("y1",ly).attr("y2",ly)
        .attr("stroke",BLUE).attr("stroke-width",3).attr("stroke-dasharray","9,3");
    } else if (lab === "Oper") {
      lg.append("line").attr("x1",80).attr("x2",113).attr("y1",ly).attr("y2",ly)
        .attr("stroke",RED).attr("stroke-width",3);
    } else {
      lg.append("circle").attr("cx",96.7).attr("cy",ly).attr("r",3)
        .attr("fill","#8a3a1e").attr("stroke",DARKDOT).attr("stroke-width",1);
    }
    lg.append("text").attr("x",146.5).attr("y",yTop+txtY[i]).attr("text-anchor","middle").text(lab)
      .attr("font-family",FONT).attr("font-weight","bold").attr("font-size",9).attr("fill",BLUE);
  });
});
</script>
</body></html>
